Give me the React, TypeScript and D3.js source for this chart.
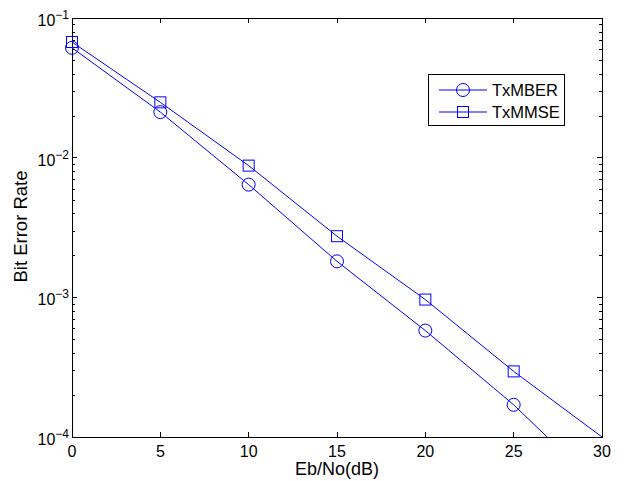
import React from "react";
import * as d3 from "d3";

const snr = [0, 5, 10, 15, 20, 25, 30];
const berMber = [0.0612, 0.0212, 0.00641, 0.00181, 0.000578, 0.00017, 0.000042];
const berMmse = [0.0673, 0.0249, 0.00877, 0.00274, 0.000964, 0.000295, 0.0001];
const xTicks = [0, 5, 10, 15, 20, 25, 30];
const yDecades = [-4, -3, -2, -1];

const W = 626;
const H = 481;
const margin = { top: 18, right: 24, bottom: 44, left: 72 };

const App = () => {
  const x = d3.scaleLinear().domain([0, 30]).range([margin.left, W - margin.right]);
  const y = d3.scaleLog().domain([1e-4, 1e-1]).range([H - margin.bottom, margin.top]);
  const line = d3
    .line<number>()
    .x((_, i) => x(snr[i]))
    .y((d) => y(d));

  const minor: number[] = [];
  yDecades.slice(0, 3).forEach((e) => {
    for (let k = 2; k <= 9; k++) minor.push(k * Math.pow(10, e));
  });

  const x0 = x(0);
  const x1 = x(30);
  const y0 = y(1e-4);
  const y1 = y(1e-1);
  const font = "'Liberation Sans', Arial, Helvetica, sans-serif";
  const blue = "#0000ff";

  const clip = "plot-clip";

  return (
    <svg width={W} height={H} style={{ position: "absolute", left: 0, top: 0, fontFamily: font }}>
      <rect width={W} height={H} fill="#fff" />
      <defs>
        <clipPath id={clip}>
          <rect x={x0} y={y1} width={x1 - x0} height={y0 - y1} />
        </clipPath>
      </defs>

      {/* ticks */}
      <g stroke="#000" strokeWidth={1} shapeRendering="crispEdges">
        {xTicks.map((t) => (
          <g key={`xt-${t}`}>
            <line x1={x(t)} x2={x(t)} y1={y0} y2={y0 - 5} />
            <line x1={x(t)} x2={x(t)} y1={y1} y2={y1 + 5} />
          </g>
        ))}
        {yDecades.map((e) => (
          <g key={`yd-${e}`}>
            <line x1={x0} x2={x0 + 5} y1={y(Math.pow(10, e))} y2={y(Math.pow(10, e))} />
            <line x1={x1} x2={x1 - 5} y1={y(Math.pow(10, e))} y2={y(Math.pow(10, e))} />
          </g>
        ))}
        {minor.map((v, i) => (
          <g key={`ym-${i}`}>
            <line x1={x0} x2={x0 + 3} y1={Math.round(y(v))} y2={Math.round(y(v))} />
            <line x1={x1} x2={x1 - 3} y1={Math.round(y(v))} y2={Math.round(y(v))} />
          </g>
        ))}
        <rect x={x0} y={y1} width={x1 - x0} height={y0 - y1} fill="none" />
      </g>

      {/* data */}
      <g clipPath={`url(#${clip})`} fill="none" stroke={blue} strokeWidth={1}>
        <path d={line(berMber) ?? ""} />
        <path d={line(berMmse) ?? ""} />
      </g>
      <g fill="none" stroke={blue} strokeWidth={1}>
        {berMber.map((v, i) =>
          v >= 1e-4 ? <circle key={`c-${i}`} cx={x(snr[i])} cy={y(v)} r={6.5} /> : null
        )}
        {berMmse.map((v, i) =>
          v >= 1e-4 && snr[i] < 30 ? (
            <rect key={`s-${i}`} x={x(snr[i]) - 5.5} y={y(v) - 5.5} width={11} height={11} />
          ) : null
        )}
      </g>

      {/* tick labels */}
      <g fill="#000">
        {xTicks.map((t) => (
          <text key={`xl-${t}`} x={x(t)} y={y0 + 20} textAnchor="middle" fontSize={16}>
            {t}
          </text>
        ))}
        {yDecades.map((e) => (
          <text key={`yl-${e}`} x={x0 - 3} y={y(Math.pow(10, e)) + 8} textAnchor="end" fontSize={16}>
            10
            <tspan dy={-7} fontSize={12}>
              {`\u2212${Math.abs(e)}`}
            </tspan>
          </text>
        ))}
      </g>

      {/* axis titles */}
      <text x={(x0 + x1) / 2} y={475} textAnchor="middle" fontSize={18}>
        Eb/No(dB)
      </text>
      <text
        transform={`translate(27,${(y0 + y1) / 2 - 1}) rotate(-90)`}
        textAnchor="middle"
        fontSize={18.5}
      >
        Bit Error Rate
      </text>

      {/* legend */}
      <g>
        <rect x={428.5} y={74.5} width={136} height={51} fill="#fff" stroke="#000" strokeWidth={1} />
        <line x1={439} x2={487} y1={90} y2={90} stroke={blue} />
        <circle cx={463} cy={90} r={6.5} fill="none" stroke={blue} />
        <text x={492} y={96} fontSize={16.5}>
          TxMBER
        </text>
        <line x1={439} x2={487} y1={112} y2={112} stroke={blue} />
        <rect x={457.5} y={106.5} width={11} height={11} fill="none" stroke={blue} />
        <text x={492} y={118} fontSize={16.5}>
          TxMMSE
        </text>
      </g>
    </svg>
  );
};

export default App;
